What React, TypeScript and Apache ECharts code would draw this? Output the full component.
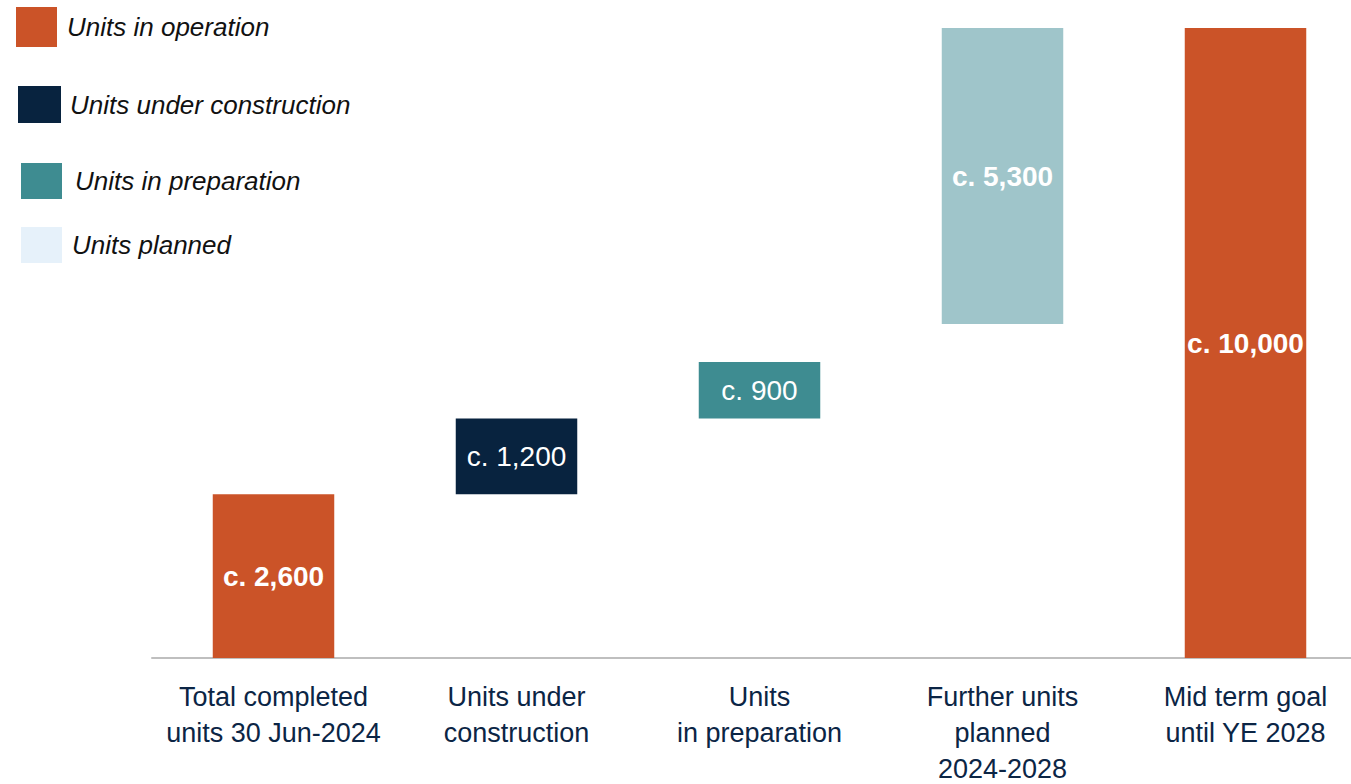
import React, { useEffect, useRef } from "react";
import * as echarts from "echarts";

const categories = [
  "Total completed\nunits 30 Jun-2024",
  "Units under\nconstruction",
  "Units\nin preparation",
  "Further units\nplanned\n2024-2028",
  "Mid term goal\nuntil YE 2028",
];
const baseValues = [0, 2600, 3800, 5300, 0];
const operation = [2600, null, null, null, 10000];
const construction = [null, 1200, null, null, null];
const preparation = [null, null, 900, null, null];
const planned = [null, null, null, 4700, null];
const valueLabels = ["c. 2,600", "c. 1,200", "c. 900", "c. 5,300", "c. 10,000"];
const boldLabels = [true, false, false, true, true];
const legendNames = [
  "Units in operation",
  "Units under construction",
  "Units in preparation",
  "Units planned",
];

const FONT = "'Liberation Sans', Arial, sans-serif";
const C_OP = "#CB5328";
const C_CON = "#08233F";
const C_PREP = "#3E8C91";
const C_PLAN = "#9FC5CA";
const C_PLAN_LEG = "#E6F1FA";

function mk(vals: (number | null)[]) {
  return vals.map((v, i) =>
    v == null
      ? "-"
      : {
          value: v,
          label: {
            show: true,
            position: "inside",
            formatter: valueLabels[i],
            color: "#FFFFFF",
            fontFamily: FONT,
            fontSize: 28,
            fontWeight: boldLabels[i] ? "bold" : "normal",
          },
        }
  );
}

export default function App() {
  const ref = useRef<HTMLDivElement>(null);
  useEffect(() => {
    if (!ref.current) return;
    const chart = echarts.init(ref.current, null, { renderer: "svg" });
    const legendPos = [
      { left: 16, top: 7, w: 41, h: 40 },
      { left: 18, top: 86, w: 43, h: 37 },
      { left: 21, top: 163, w: 41, h: 36 },
      { left: 21, top: 227, w: 41, h: 36 },
    ];
    const legendColors = [C_OP, C_CON, C_PREP, C_PLAN_LEG];
    const gaps = [5, 4, 8, 5];
    chart.setOption({
      animation: false,
      backgroundColor: "#FFFFFF",
      grid: {
        left: 152,
        width: 1215,
        top: 28,
        bottom: 126,
        containLabel: false,
        outerBoundsMode: "none",
      },
      legend: legendNames.map((n, i) => ({
        show: true,
        left: legendPos[i].left,
        top: legendPos[i].top,
        padding: 0,
        itemWidth: legendPos[i].w,
        itemHeight: legendPos[i].h,
        itemGap: 0,
        icon: "rect",
        selectedMode: false,
        data: [{ name: n, itemStyle: { color: legendColors[i] } }],
        textStyle: {
          fontFamily: FONT,
          fontSize: 26,
          fontStyle: "italic",
          color: "#111111",
          padding: [0, 0, 0, gaps[i]],
        },
      })),
      xAxis: {
        type: "category",
        data: categories,
        axisLine: { show: true, lineStyle: { color: "#BFBFBF", width: 2 } },
        axisTick: { show: false },
        axisLabel: {
          margin: 21,
          fontFamily: FONT,
          fontSize: 27,
          lineHeight: 36,
          color: "#0B2545",
          interval: 0,
        },
      },
      yAxis: {
        type: "value",
        min: 0,
        max: 10000,
        show: false,
        splitLine: { show: false },
      },
      series: [
        {
          name: "base",
          type: "bar",
          stack: "total",
          barWidth: "50%",
          itemStyle: { color: "transparent" },
          data: baseValues,
          silent: true,
        },
        {
          name: legendNames[0],
          type: "bar",
          stack: "total",
          barWidth: "50%",
          itemStyle: { color: C_OP },
          data: mk(operation),
        },
        {
          name: legendNames[1],
          type: "bar",
          stack: "total",
          barWidth: "50%",
          itemStyle: { color: C_CON },
          data: mk(construction),
        },
        {
          name: legendNames[2],
          type: "bar",
          stack: "total",
          barWidth: "50%",
          itemStyle: { color: C_PREP },
          data: mk(preparation),
        },
        {
          name: legendNames[3],
          type: "bar",
          stack: "total",
          barWidth: "50%",
          itemStyle: { color: C_PLAN },
          data: mk(planned),
        },
      ],
    });
    return () => chart.dispose();
  }, []);
  return (
    <div
      ref={ref}
      style={{ position: "fixed", left: 0, top: 0, width: 1400, height: 784 }}
    />
  );
}
